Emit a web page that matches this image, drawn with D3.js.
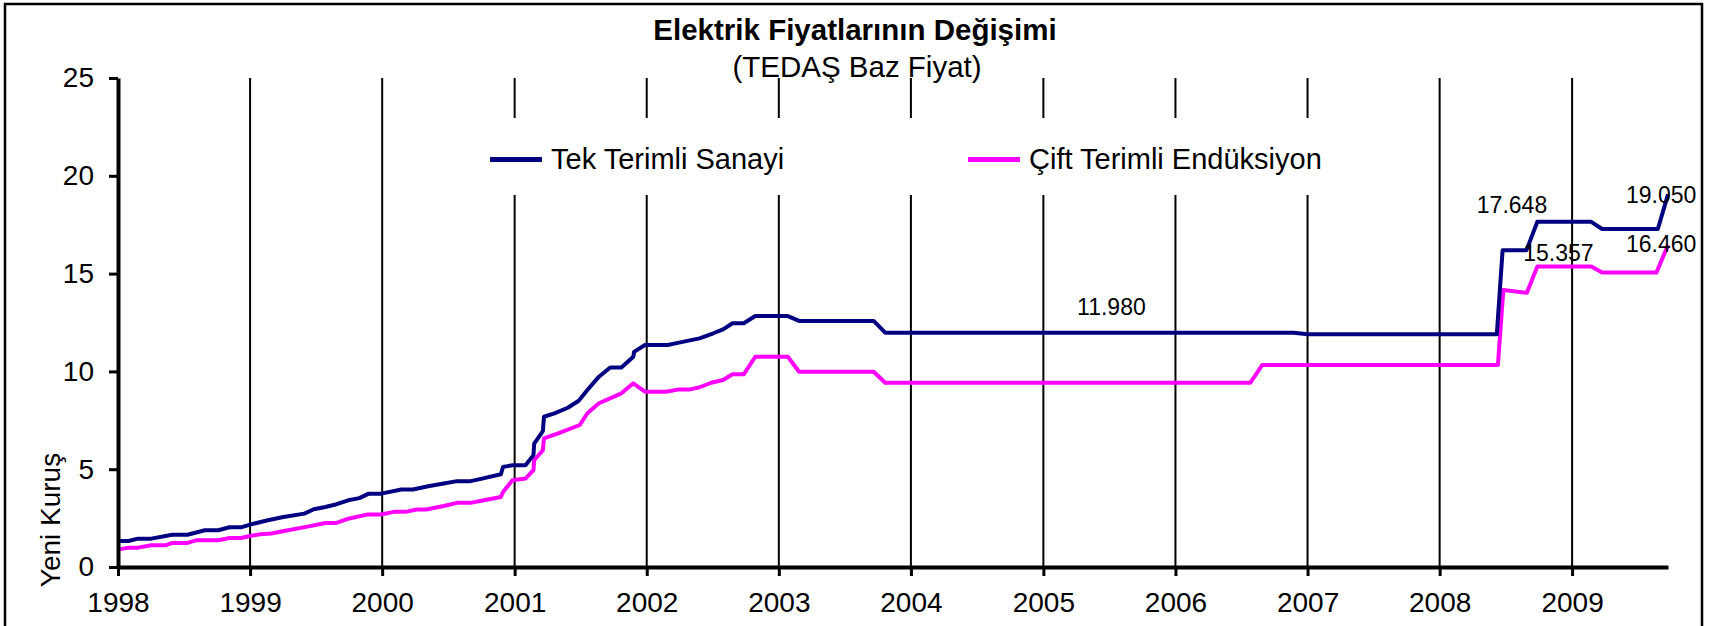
<!DOCTYPE html>
<html>
<head>
<meta charset="utf-8">
<script src="https://cdnjs.cloudflare.com/ajax/libs/d3/7.8.5/d3.min.js"></script>
<style>
  body { margin: 0; background: #fff; }
  svg text { font-family: Arial, "Liberation Sans", sans-serif; fill: #000; }
</style>
</head>
<body>
<div id="chart"></div>
<script>
// Tek Terimli Sanayi (Yeni Kuruş)
const tekDates = [
  '1998-01-01', '1998-01-30', '1998-02-25', '1998-04-03', '1998-05-31', '1998-07-12',
  '1998-08-29', '1998-10-05', '1998-11-05', '1998-12-07', '1999-01-03', '1999-02-19',
  '1999-04-03', '1999-05-31', '1999-06-26', '1999-07-28', '1999-08-28', '1999-09-29',
  '1999-10-30', '1999-11-25', '1999-12-29', '2000-02-23', '2000-03-26', '2000-05-07',
  '2000-06-19', '2000-07-26', '2000-09-01', '2000-10-03', '2000-11-24', '2000-11-30',
  '2000-12-26', '2001-01-31', '2001-02-22', '2001-02-24', '2001-03-20', '2001-03-23',
  '2001-04-21', '2001-05-28', '2001-06-27', '2001-07-21', '2001-08-22', '2001-09-22',
  '2001-10-23', '2001-11-25', '2001-11-27', '2001-12-27', '2002-02-28', '2002-03-31',
  '2002-05-27', '2002-07-04', '2002-07-31', '2002-08-26', '2002-09-26', '2002-10-28',
  '2003-01-26', '2003-02-26', '2003-09-20', '2003-10-22', '2006-11-24', '2007-01-01',
  '2008-06-07', '2008-06-23', '2008-08-28', '2008-09-27', '2009-02-23', '2009-03-25',
  '2009-08-26', '2009-09-23'
];
const tekValues = [
  1.33, 1.33, 1.45, 1.45, 1.65, 1.65,
  1.88, 1.88, 2.03, 2.03, 2.18, 2.39,
  2.56, 2.73, 2.95, 3.07, 3.21, 3.41,
  3.52, 3.75, 3.75, 3.96, 3.96, 4.13,
  4.27, 4.39, 4.39, 4.52, 4.74, 5.12,
  5.2, 5.2, 5.72, 6.31, 6.95, 7.68,
  7.85, 8.14, 8.5, 9.05, 9.73, 10.2,
  10.2, 10.75, 11.0, 11.35, 11.35, 11.47,
  11.69, 11.95, 12.15, 12.46, 12.46, 12.83,
  12.83, 12.58, 12.58, 11.98, 11.98, 11.9,
  11.9, 16.2, 16.2, 17.648, 17.648, 17.28,
  17.28, 19.05
];

// Çift Terimli Endüksiyon (Yeni Kuruş)
const ciftDates = [
  '1998-01-01', '1998-01-30', '1998-02-25', '1998-04-03', '1998-05-12', '1998-05-31',
  '1998-07-12', '1998-08-07', '1998-10-05', '1998-11-05', '1998-12-07', '1999-01-03',
  '1999-01-29', '1999-03-01', '1999-04-01', '1999-06-05', '1999-07-28', '1999-08-28',
  '1999-09-29', '1999-11-20', '1999-12-29', '2000-02-02', '2000-03-05', '2000-04-06',
  '2000-05-02', '2000-06-19', '2000-07-26', '2000-09-01', '2000-10-08', '2000-11-24',
  '2000-11-30', '2000-12-26', '2001-01-31', '2001-02-22', '2001-02-24', '2001-03-20',
  '2001-03-23', '2001-05-01', '2001-06-30', '2001-07-21', '2001-08-22', '2001-10-23',
  '2001-11-25', '2001-12-27', '2002-02-23', '2002-03-31', '2002-05-01', '2002-05-27',
  '2002-06-28', '2002-07-31', '2002-08-26', '2002-09-26', '2002-10-28', '2003-01-26',
  '2003-02-26', '2003-09-20', '2003-10-22', '2006-07-27', '2006-08-29', '2008-06-10',
  '2008-06-25', '2008-08-29', '2008-09-27', '2009-02-23', '2009-03-25', '2009-08-22',
  '2009-09-23'
];
const ciftValues = [
  0.89, 0.99, 0.99, 1.11, 1.11, 1.23,
  1.23, 1.37, 1.37, 1.48, 1.48, 1.6,
  1.67, 1.71, 1.83, 2.05, 2.25, 2.25,
  2.47, 2.68, 2.68, 2.82, 2.82, 2.94,
  2.94, 3.12, 3.28, 3.28, 3.41, 3.58,
  3.84, 4.44, 4.52, 4.95, 5.46, 5.97,
  6.57, 6.83, 7.26, 7.86, 8.37, 8.88,
  9.39, 8.96, 8.96, 9.08, 9.08, 9.19,
  9.42, 9.56, 9.85, 9.85, 10.75, 10.75,
  9.98, 9.98, 9.42, 9.42, 10.33, 10.33,
  14.16, 14.02, 15.357, 15.357, 15.05, 15.05,
  16.46
];

const seriesNames = ['Tek Terimli Sanayi', 'Çift Terimli Endüksiyon'];
const seriesColors = ['#000080', '#ff00ff'];
const yTicks = [0, 5, 10, 15, 20, 25];
const xTickYears = [1998, 1999, 2000, 2001, 2002, 2003, 2004, 2005, 2006, 2007, 2008, 2009];

// data labels: text and where its baseline centre sits (date, value)
const labelTexts = ['11.980', '17.648', '15.357', '19.050', '16.460'];
const labelDates = ['2005-07-08', '2008-07-19', '2008-11-24', '2009-09-04', '2009-09-04'];
const labelValues = [12.88, 18.11, 15.66, 18.59, 16.12];

const title = 'Elektrik Fiyatlarının Değişimi';
const subtitle = '(TEDAŞ Baz Fiyat)';
const yTitle = 'Yeni Kuruş';

const parseDate = d3.timeParse('%Y-%m-%d');

const chart = (container)=> {
  const config = {
    width: 1710,
    height: 626,
    left: 118,
    right: 1668,
    top: 78,
    bottom: 567,
    tickFont: 28,
    labelFont: 23,
    lineWidth: 4
  };

  let svg;
  let x;
  let y;

  function configure() {
    x = d3.scaleTime()
      .domain([parseDate(tekDates[0]), parseDate(tekDates[tekDates.length - 1])])
      .range([config.left, config.right]);
    y = d3.scaleLinear()
      .domain([0, 25])
      .range([config.bottom, config.top]);
  }

  function createCanvas() {
    svg = d3.select(container)
      .html('')
      .append('svg')
      .attr('width', config.width)
      .attr('height', config.height);

    svg.append('rect')
      .attr('width', config.width)
      .attr('height', config.height)
      .attr('fill', '#fff');

    // outer frame (bottom edge runs off the picture)
    svg.append('rect')
      .attr('x', 5)
      .attr('y', 4)
      .attr('width', 1697)
      .attr('height', 700)
      .attr('fill', 'none')
      .attr('stroke', '#000')
      .attr('stroke-width', 2.5);
  }

  function drawGrid() {
    svg.append('g')
      .attr('class', 'grid')
      .selectAll('line')
      .data(xTickYears.slice(1))
      .enter()
      .append('line')
      .attr('x1', (d)=> x(new Date(d, 0, 1)))
      .attr('x2', (d)=> x(new Date(d, 0, 1)))
      .attr('y1', y(25))
      .attr('y2', y(0))
      .attr('stroke', '#000')
      .attr('stroke-width', 2);
  }

  function drawLegend() {
    const lg = svg.append('g').attr('class', 'legend');
    lg.append('rect')
      .attr('x', 480)
      .attr('y', 118)
      .attr('width', 855)
      .attr('height', 77)
      .attr('fill', '#fff');

    const starts = [490, 968];
    const items = lg.selectAll('g')
      .data(seriesNames)
      .enter()
      .append('g')
      .attr('transform', (d, i)=> `translate(${starts[i]},159.5)`);
    items.append('line')
      .attr('x1', 0)
      .attr('x2', 52)
      .attr('stroke', (d, i)=> seriesColors[i])
      .attr('stroke-width', 5);
    items.append('text')
      .attr('x', 61)
      .attr('y', 9)
      .style('font-size', '29px')
      .text((d)=> d);
  }

  function drawLines() {
    const line = d3.line()
      .x((d)=> x(d.date))
      .y((d)=> y(d.value));

    const series = [
      tekDates.map((d, i)=> ({date: parseDate(d), value: tekValues[i]})),
      ciftDates.map((d, i)=> ({date: parseDate(d), value: ciftValues[i]}))
    ];

    // magenta first so the navy line sits on top
    [1, 0].forEach((i)=> {
      svg.append('path')
        .datum(series[i])
        .attr('fill', 'none')
        .attr('stroke', seriesColors[i])
        .attr('stroke-width', config.lineWidth)
        .attr('stroke-linejoin', 'round')
        .attr('d', line);
    });
  }

  function drawAxes() {
    const yAxis = d3.axisLeft(y)
      .tickValues(yTicks)
      .tickSize(9)
      .tickSizeOuter(0)
      .tickPadding(15);
    const gy = svg.append('g')
      .attr('transform', `translate(${config.left},0)`)
      .call(yAxis);

    const xAxis = d3.axisBottom(x)
      .tickValues(xTickYears.map((d)=> new Date(d, 0, 1)))
      .tickFormat(d3.timeFormat('%Y'))
      .tickSize(9)
      .tickSizeOuter(0)
      .tickPadding(16);
    const gx = svg.append('g')
      .attr('transform', `translate(0,${config.bottom})`)
      .call(xAxis);

    [gx, gy].forEach((g)=> {
      g.select('.domain').attr('stroke', '#000').attr('stroke-width', 4);
      g.selectAll('.tick line').attr('stroke', '#000').attr('stroke-width', 3);
      g.selectAll('.tick text')
        .attr('fill', '#000')
        .style('font-size', `${config.tickFont}px`)
        .style('font-family', 'Arial, "Liberation Sans", sans-serif');
    });

    svg.append('text')
      .attr('transform', 'translate(60,520) rotate(-90)')
      .style('text-anchor', 'middle')
      .style('font-size', '28px')
      .text(yTitle);
  }

  function drawTitles() {
    svg.append('text')
      .attr('x', 855)
      .attr('y', 40)
      .style('text-anchor', 'middle')
      .style('font-size', '29.5px')
      .style('font-weight', 'bold')
      .text(title);
    svg.append('text')
      .attr('x', 857)
      .attr('y', 77)
      .style('text-anchor', 'middle')
      .style('font-size', '29.5px')
      .text(subtitle);
  }

  function drawLabels() {
    svg.append('g')
      .attr('class', 'labels')
      .selectAll('text')
      .data(labelTexts)
      .enter()
      .append('text')
      .attr('x', (d, i)=> x(parseDate(labelDates[i])))
      .attr('y', (d, i)=> y(labelValues[i]))
      .style('text-anchor', 'middle')
      .style('font-size', `${config.labelFont}px`)
      .text((d)=> d);
  }

  function render() {
    configure();
    createCanvas();
    drawGrid();
    drawLegend();
    drawLines();
    drawAxes();
    drawTitles();
    drawLabels();
  }

  return {render};
};

chart(document.getElementById('chart')).render();
</script>
</body>
</html>
